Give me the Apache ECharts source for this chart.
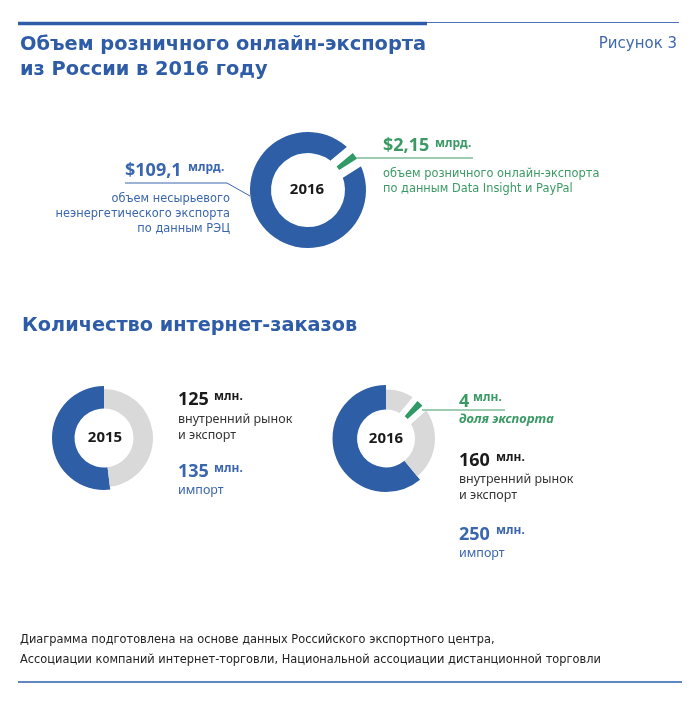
<!DOCTYPE html>
<html><head><meta charset="utf-8">
<script src="https://cdn.jsdelivr.net/npm/echarts@6/dist/echarts.min.js"></script>
<style>html,body{margin:0;padding:0;background:#fff}#c{width:700px;height:707px}</style>
</head><body><div id="c"></div>
<script>
// ---- data ----
const exportCategories = ['несырьевой неэнергетический экспорт (РЭЦ)', 'розничный онлайн-экспорт (Data Insight и PayPal)'];
const exportValues = [109.1, 2.15];          // млрд $
const orderYears = ['2015', '2016'];
const domesticOrders = [125, 160];           // млн, внутренний рынок и экспорт
const importOrders = [135, 250];             // млн, импорт
const exportOrders2016 = 4;                  // млн, доля экспорта

// ---- styles ----
const BLUE = '#2e5ea6', GREEN = '#2f9a66', GRAY = '#d9d9d9';
const TBLUE = '#3a66ad', TGREEN = '#3b9a64', TITLE = '#2f5ca7';
const NONE = 'rgba(0,0,0,0)';
const fmt = v => String(v).replace('.', ',');

function ring(center, radius, data, startAngle, clockwise, extra) {
  return Object.assign({
    type: 'pie', center, radius, startAngle, clockwise, data,
    silent: true, animation: false, avoidLabelOverlap: false,
    label: { show: false }, labelLine: { show: false }, emphasis: { disabled: true }
  }, extra || {});
}
const item = (value, color, more) => ({ value, itemStyle: Object.assign({ color }, more || {}) });

function T(text, x, y, font, fill, align) {
  return { type: 'text', z: 100, silent: true,
    style: { text, x, y, font, fill, align: align || 'left', textAlign: align || 'left',
             verticalAlign: 'middle', textVerticalAlign: 'middle' } };
}
function L(points, stroke, lw) {
  return { type: 'polyline', z: 100, silent: true, shape: { points },
    style: { stroke, lineWidth: lw, fill: null } };
}

const series = [];
// --- top donut (export 2016) ---
const expTotal = exportValues[0] + exportValues[1];
const topC = [308, 190], topR = [37, 58];
const topStart = 90 - 54 + exportValues[1] / expTotal * 180;
series.push(ring(topC, topR, [item(exportValues[1], GREEN), item(exportValues[0], BLUE)], topStart, true));
series.push(ring(topC, topR, [item(exportValues[1], '#fff', { borderColor: '#fff', borderWidth: 17, borderJoin: 'round' }), item(exportValues[0], NONE)], topStart, true));
series.push(ring(topC, topR, [item(exportValues[1], GREEN), item(exportValues[0], NONE)], topStart, true));

// --- 2015 orders ---
const c15 = [104, 438];
series.push(ring(c15, [29.5, 52], [item(importOrders[0], BLUE), item(domesticOrders[0], NONE)], 90, false));
series.push(ring(c15, [29.5, 49], [item(importOrders[0], NONE), item(domesticOrders[0], GRAY)], 90, false));

// --- 2016 orders ---
const c16 = [386, 438.5];
const tot16 = importOrders[1] + domesticOrders[1];
series.push(ring(c16, [29, 53.5], [item(importOrders[1], BLUE), item(domesticOrders[1], NONE)], 90, false));
series.push(ring(c16, [29, 49], [item(importOrders[1], NONE), item(domesticOrders[1], GRAY)], 90, false));
const gStart = 90 - 44 + 4;
series.push(ring(c16, [29, 49], [item(exportOrders2016, '#fff', { borderColor: '#fff', borderWidth: 12, borderJoin: 'round' }), item(tot16 - exportOrders2016, NONE)], gStart, true, { minAngle: 8 }));
series.push(ring(c16, [29, 49], [item(exportOrders2016, GREEN), item(tot16 - exportOrders2016, NONE)], gStart, true, { minAngle: 8 }));

const DJ = "'DejaVu Sans'", NS = "'Noto Sans'";
const g = [];
// header rules
g.push({ type: 'line', z: 100, shape: { x1: 18, y1: 23.5, x2: 427, y2: 23.5 }, style: { stroke: TITLE, lineWidth: 3.5 } });
g.push({ type: 'line', z: 100, shape: { x1: 427, y1: 22.5, x2: 679, y2: 22.5 }, style: { stroke: '#4d74b8', lineWidth: 1.2 } });
g.push(T('Объем розничного онлайн-экспорта', 20, 45, 'bold 19.4px ' + DJ, TITLE));
g.push(T('из России в 2016 году', 20, 70, 'bold 19.4px ' + DJ, TITLE));
g.push(T('Рисунок 3', 677, 44.5, '15px ' + DJ, '#3f68ad', 'right'));

// top donut labels
g.push(T(orderYears[1], 307, 190, 'bold 15px ' + NS, '#1a1a1a', 'center'));
g.push(T('$' + fmt(exportValues[0]), 125, 170.5, 'bold 18px ' + NS, TBLUE));
g.push(T('млрд.', 188, 168, 'bold 12px ' + NS, TBLUE));
g.push(L([[125, 183], [227, 183], [250, 196]], TBLUE, 1));
g.push(T('объем несырьевого', 230, 199, '11.4px ' + DJ, TBLUE, 'right'));
g.push(T('неэнергетического экспорта', 230, 214, '11.4px ' + DJ, TBLUE, 'right'));
g.push(T('по данным РЭЦ', 230, 229.5, '11.4px ' + DJ, TBLUE, 'right'));

g.push(T('$' + fmt(exportValues[1]), 383, 146, 'bold 18px ' + NS, TGREEN));
g.push(T('млрд.', 435, 144, 'bold 12px ' + NS, TGREEN));
g.push(L([[352, 158], [473, 158]], TGREEN, 1));
g.push(T('объем розничного онлайн-экспорта', 383, 174, '11.4px ' + DJ, TGREEN));
g.push(T('по данным Data Insight и PayPal', 383, 189, '11.4px ' + DJ, TGREEN));

// section 2
g.push(T('Количество интернет-заказов', 22, 326, 'bold 19.3px ' + DJ, TITLE));
g.push(T(orderYears[0], 105, 438, 'bold 15px ' + NS, '#1a1a1a', 'center'));
g.push(T(orderYears[1], 386, 439, 'bold 15px ' + NS, '#1a1a1a', 'center'));

g.push(T(String(domesticOrders[0]), 178, 399.5, 'bold 18px ' + NS, '#1a1a1a'));
g.push(T('млн.', 214, 396.5, 'bold 12px ' + NS, '#1a1a1a'));
g.push(T('внутренний рынок', 178, 419.5, '12.5px ' + NS, '#333'));
g.push(T('и экспорт', 178, 435, '12.5px ' + NS, '#333'));
g.push(T(String(importOrders[0]), 178, 472, 'bold 18px ' + NS, TBLUE));
g.push(T('млн.', 214, 469, 'bold 12px ' + NS, TBLUE));
g.push(T('импорт', 178, 490, '12.5px ' + NS, TBLUE));

g.push(T(String(exportOrders2016), 459, 401.5, 'bold 18px ' + NS, TGREEN));
g.push(T('млн.', 473, 398, 'bold 12px ' + NS, TGREEN));
g.push(L([[422, 410], [505, 410]], TGREEN, 1));
g.push(T('доля экспорта', 459, 419, 'italic bold 13px ' + NS, TGREEN));
g.push(T(String(domesticOrders[1]), 459, 460.5, 'bold 18px ' + NS, '#1a1a1a'));
g.push(T('млн.', 496, 457.5, 'bold 12px ' + NS, '#1a1a1a'));
g.push(T('внутренний рынок', 459, 479, '12.5px ' + NS, '#333'));
g.push(T('и экспорт', 459, 495, '12.5px ' + NS, '#333'));
g.push(T(String(importOrders[1]), 459, 534.5, 'bold 18px ' + NS, TBLUE));
g.push(T('млн.', 496, 531, 'bold 12px ' + NS, TBLUE));
g.push(T('импорт', 459, 553, '12.5px ' + NS, TBLUE));

// footer
g.push(T('Диаграмма подготовлена на основе данных Российского экспортного центра,', 20, 640, '11.4px ' + DJ, '#222'));
g.push(T('Ассоциации компаний интернет-торговли, Национальной ассоциации дистанционной торговли', 20, 660, '11.4px ' + DJ, '#222'));
g.push({ type: 'line', z: 100, shape: { x1: 18, y1: 682, x2: 682, y2: 682 }, style: { stroke: '#6186c6', lineWidth: 2 } });

const chart = echarts.init(document.getElementById('c'), null, { renderer: 'canvas' });
chart.setOption({ backgroundColor: '#fff', animation: false, series, graphic: { elements: g } });
</script></body></html>
